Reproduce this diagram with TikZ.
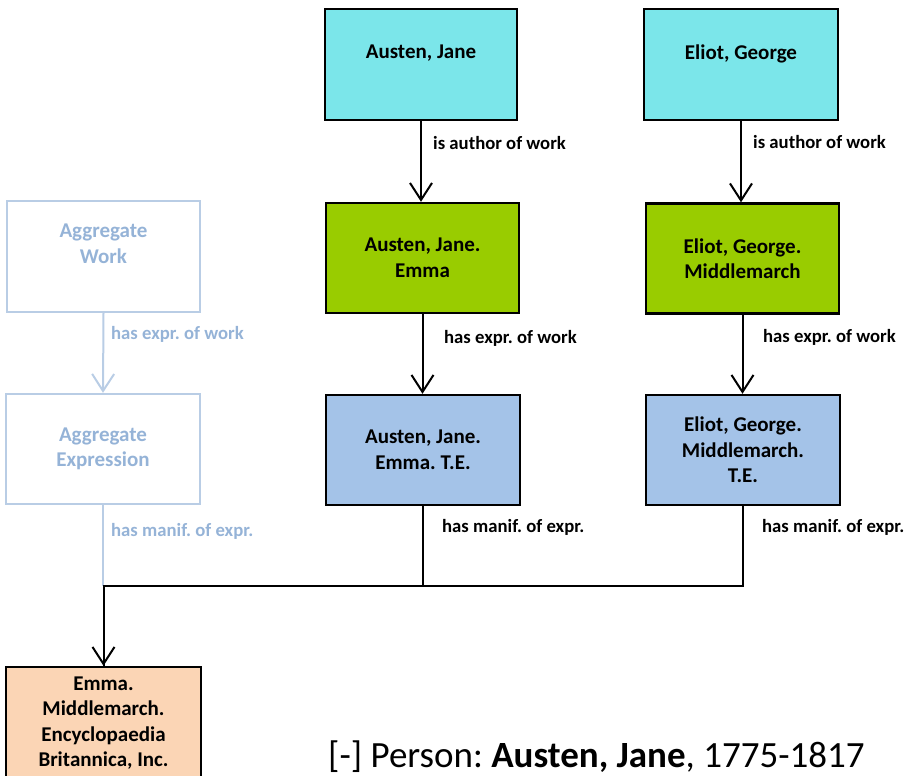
\documentclass[tikz,border=0pt]{standalone}
\usepackage{fontspec}
\setmainfont{Carlito}
\usetikzlibrary{arrows.meta}
\definecolor{cyanfill}{HTML}{7BE6EA}
\definecolor{greenfill}{HTML}{99CC00}
\definecolor{bluefill}{HTML}{A4C3E8}
\definecolor{orangefill}{HTML}{FBD5B5}
\definecolor{aggline}{HTML}{B9CDE5}
\definecolor{aggtext}{HTML}{95B3D7}
\frenchspacing
\tikzset{
  box/.style={draw=black, line width=2.4pt, rectangle, align=center, inner sep=0pt,
    font=\fontsize{21}{25.5}\selectfont\bfseries},
  aggbox/.style={draw=aggline, line width=2.4pt, rectangle, align=center, inner sep=0pt,
    text=aggtext, font=\fontsize{21}{25.5}\selectfont\bfseries},
  lbl/.style={anchor=west, inner sep=0pt, font=\fontsize{18.7}{21}\selectfont\bfseries},
  conn/.style={line width=2pt, draw=black},
  arr/.style={conn, -{Straight Barb[length=17pt,width=22pt,line width=2pt]}},
  aggarr/.style={line width=2pt, draw=aggline, -{Straight Barb[length=17pt,width=22pt,line width=2pt]}},
}
\begin{document}
\begin{tikzpicture}[x=1pt,y=-1pt]
\useasboundingbox (0,0) rectangle (908,776);
% top row
\node[box, fill=cyanfill, minimum width=192pt, minimum height=111pt] (aj) at (421,64.5) {Austen, Jane\\\mbox{}};
\node[box, fill=cyanfill, minimum width=194pt, minimum height=111pt] (eg) at (741,64.5) {Eliot, George\\\mbox{}};
% works
\node[box, fill=greenfill, minimum width=193pt, minimum height=110pt] (aje) at (422.5,258) {Austen, Jane.\\Emma};
\node[box, fill=greenfill, minimum width=193pt, minimum height=110pt] (egm) at (742.5,258.5) {Eliot, George.\\Middlemarch};
% expressions
\node[box, fill=bluefill, minimum width=194pt, minimum height=110pt] (ajt) at (423,450) {Austen, Jane.\\Emma. T.E.};
\node[box, fill=bluefill, minimum width=194pt, minimum height=110pt] (egt) at (743,450) {Eliot, George.\\Middlemarch.\\T.E.};
% aggregates
\node[aggbox, minimum width=193pt, minimum height=111pt] (aw) at (103.5,256.5) {Aggregate\\Work\\\mbox{}};
\node[aggbox, minimum width=194pt, minimum height=110pt] (ae) at (103,449) {Aggregate\\Expression};
% manifestation
\node[box, fill=orangefill, minimum width=195pt, minimum height=112pt] (man) at (103.5,723) {Emma.\\Middlemarch.\\Encyclopaedia\\Britannica, Inc.};
% connectors
\draw[arr] (aj.south) -- (aj.south |- aje.north);
\draw[arr] (eg.south) -- (eg.south |- egm.north);
\draw[arr] (aje.south) -- (aje.south |- ajt.north);
\draw[arr] (egm.south) -- (egm.south |- egt.north);
\draw[aggarr] (aw.south) -- (ae.north);
\coordinate (j) at (103.5,586);
\draw[line width=2pt, draw=aggline] (ae.south) -- (ae.south |- j);
\draw[conn] (ajt.south) -- (ajt.south |- j);
\draw[conn, line join=miter] (egt.south) |- (j) -- (j |- man.north);
\draw[arr] (j) -- (j |- man.north);
% labels
\node[lbl] (l1) at (433,143) {is author of work};
\node[lbl] (l2) at (753,142) {is author of work};
\node[lbl] (l3) at (444,338) {has expr. of work};
\node[lbl] (l4) at (763,337.5) {has expr. of work};
\node[lbl] (l5) at (442,527.5) {has manif. of expr.};
\node[lbl] (l6) at (762,527) {has manif. of expr.};
\node[lbl, text=aggtext] (l7) at (111,334.5) {has expr. of work};
\node[lbl, text=aggtext] (l8) at (111,531) {has manif. of expr.};
% bottom caption
\node[anchor=base west, inner sep=0pt, font=\fontsize{37}{40}\selectfont] (cap) at (328,767) {[-] Person: \textbf{Austen, Jane}, 1775-1817};
\end{tikzpicture}
\end{document}
